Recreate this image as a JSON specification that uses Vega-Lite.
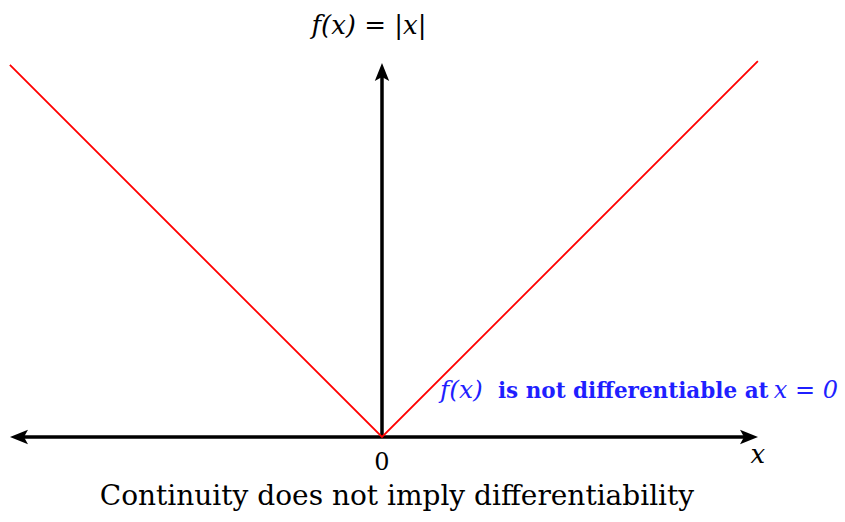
{
  "$schema": "https://vega.github.io/schema/vega-lite/v6.json",
  "width": 845,
  "height": 522,
  "autosize": {"type": "none"},
  "padding": 0,
  "background": "white",
  "config": {"view": {"stroke": null}},
  "datasets": {
    "curve": [
      {"x": -0.995, "y": 0.995},
      {"x": 0, "y": 0},
      {"x": 1.005, "y": 1.005}
    ],
    "axes": [
      {"axis": "x", "x": -0.965, "y": 0, "x2": 0.975, "y2": 0},
      {"axis": "y", "x": 0, "y": 0, "x2": 0, "y2": 0.97}
    ],
    "heads": [
      {"x": -0.9706, "y": 0, "dir": "left"},
      {"x": 0.9813, "y": 0, "dir": "right"},
      {"x": 0, "y": 0.976, "dir": "up"}
    ],
    "mathlabels": [
      {"label": "f(x) = |x|", "x": -0.035, "y": 1.0775},
      {"label": "x", "x": 1.005, "y": -0.0695}
    ],
    "numlabels": [
      {"label": "0", "x": 0, "y": -0.0882}
    ],
    "note": [
      {"part": "f(x)", "x": 0.155, "y": 0.104, "kind": "math", "align": "left"},
      {"part": "is not differentiable at", "x": 0.31, "y": 0.104, "kind": "bold", "align": "left"},
      {"part": "x = 0", "x": 1.219, "y": 0.104, "kind": "math", "align": "right"}
    ],
    "caption": [
      {"label": "Continuity does not imply differentiability", "x": 0.04, "y": -0.1818}
    ]
  },
  "layer": [
    {
      "data": {"name": "axes"},
      "mark": {"type": "rule", "color": "black", "strokeWidth": 3.5},
      "encoding": {
        "x": {"field": "x", "type": "quantitative", "scale": {"domain": [-1.02139, 1.23797], "nice": false, "zero": false}, "axis": null},
        "y": {"field": "y", "type": "quantitative", "scale": {"domain": [-0.22727, 1.16845], "nice": false, "zero": false}, "axis": null},
        "x2": {"field": "x2"},
        "y2": {"field": "y2"}
      }
    },
    {
      "data": {"name": "curve"},
      "mark": {"type": "line", "color": "#ff0000", "strokeWidth": 1.8},
      "encoding": {
        "x": {"field": "x", "type": "quantitative"},
        "y": {"field": "y", "type": "quantitative"}
      }
    },
    {
      "data": {"name": "heads"},
      "mark": {"type": "point", "filled": true, "color": "black", "opacity": 1, "size": 324, "strokeWidth": 0},
      "encoding": {
        "x": {"field": "x", "type": "quantitative"},
        "y": {"field": "y", "type": "quantitative"},
        "shape": {"field": "dir", "type": "nominal", "legend": null, "scale": {"domain": ["left", "right", "up"], "range": ["M-1,0 L1,-0.8 L0.55,0 L1,0.8 Z", "M1,0 L-1,-0.8 L-0.55,0 L-1,0.8 Z", "M0,-1 L-0.8,1 L0,0.55 L0.8,1 Z"]}}
      }
    },
    {
      "data": {"name": "mathlabels"},
      "mark": {"type": "text", "font": "DejaVu Serif", "fontStyle": "italic", "fontSize": 26, "baseline": "alphabetic", "align": "center", "color": "black"},
      "encoding": {
        "x": {"field": "x", "type": "quantitative"},
        "y": {"field": "y", "type": "quantitative"},
        "text": {"field": "label"}
      }
    },
    {
      "data": {"name": "numlabels"},
      "mark": {"type": "text", "font": "DejaVu Serif", "fontSize": 24, "baseline": "alphabetic", "align": "center", "color": "black"},
      "encoding": {
        "x": {"field": "x", "type": "quantitative"},
        "y": {"field": "y", "type": "quantitative"},
        "text": {"field": "label"}
      }
    },
    {
      "data": {"name": "note"},
      "transform": [{"filter": "datum.kind === 'math' && datum.align === 'left'"}],
      "mark": {"type": "text", "font": "DejaVu Serif", "fontStyle": "italic", "fontSize": 25, "baseline": "alphabetic", "align": "left", "color": "#1f1fff"},
      "encoding": {
        "x": {"field": "x", "type": "quantitative"},
        "y": {"field": "y", "type": "quantitative"},
        "text": {"field": "part"}
      }
    },
    {
      "data": {"name": "note"},
      "transform": [{"filter": "datum.kind === 'math' && datum.align === 'right'"}],
      "mark": {"type": "text", "font": "DejaVu Serif", "fontStyle": "italic", "fontSize": 24, "baseline": "alphabetic", "align": "right", "color": "#1f1fff"},
      "encoding": {
        "x": {"field": "x", "type": "quantitative"},
        "y": {"field": "y", "type": "quantitative"},
        "text": {"field": "part"}
      }
    },
    {
      "data": {"name": "note"},
      "transform": [{"filter": "datum.kind === 'bold'"}],
      "mark": {"type": "text", "font": "DejaVu Serif", "fontWeight": "bold", "fontSize": 21.5, "baseline": "alphabetic", "align": "left", "color": "#1f1fff"},
      "encoding": {
        "x": {"field": "x", "type": "quantitative"},
        "y": {"field": "y", "type": "quantitative"},
        "text": {"field": "part"}
      }
    },
    {
      "data": {"name": "caption"},
      "mark": {"type": "text", "font": "DejaVu Serif", "fontSize": 28, "baseline": "alphabetic", "align": "center", "color": "black"},
      "encoding": {
        "x": {"field": "x", "type": "quantitative"},
        "y": {"field": "y", "type": "quantitative"},
        "text": {"field": "label"}
      }
    }
  ]
}
